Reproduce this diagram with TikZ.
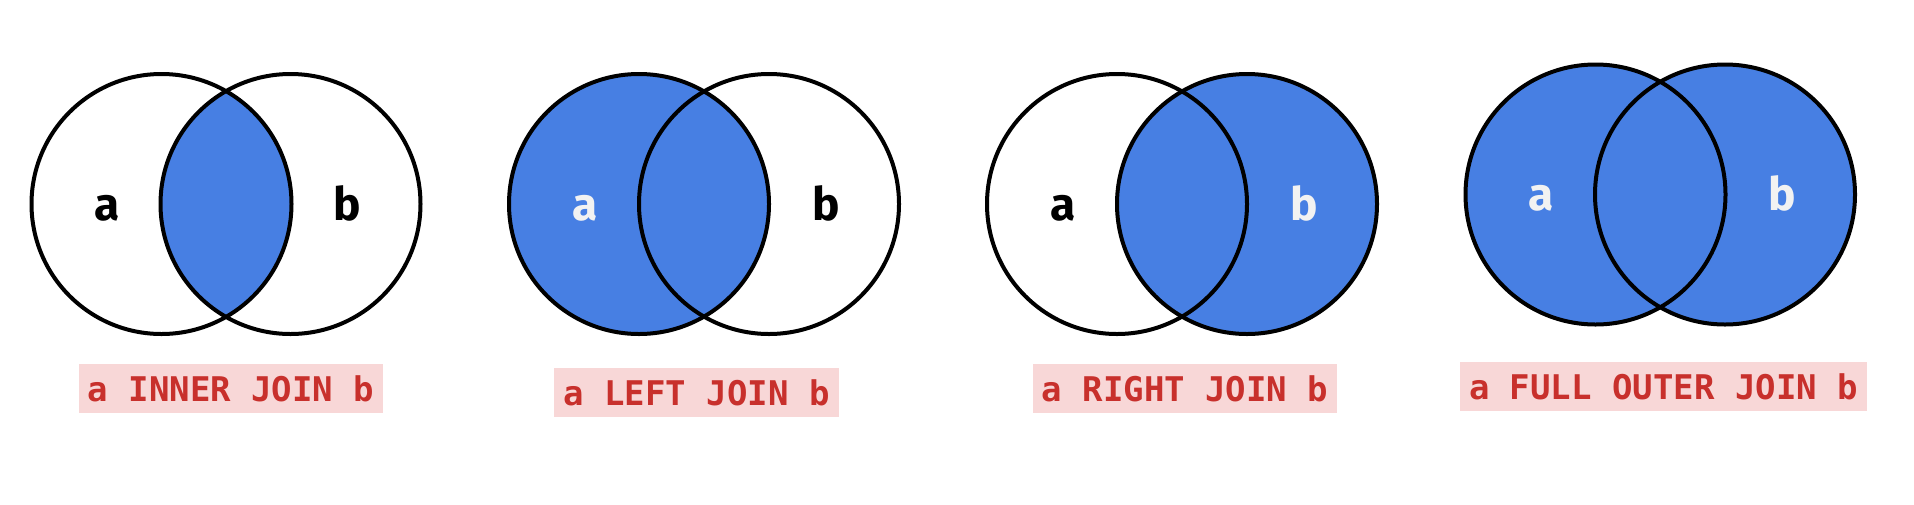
\documentclass[tikz,border=0pt]{standalone}
\usepackage{fontspec}
\setsansfont{Fira Sans}
\setmonofont{DejaVu Sans Mono}
\usepackage{tikz}
\usepackage{xcolor}
\usetikzlibrary{positioning}

\definecolor{joinblue}{HTML}{477FE3}
\definecolor{tagpink}{HTML}{F8D7D7}
\definecolor{tagred}{HTML}{C8302C}
\definecolor{paleletter}{HTML}{F2F2F2}
\def\setrad{130}

\begin{document}
\begin{tikzpicture}[x=1pt, y=-1pt,
        set/.style={circle, draw, line width=4pt, minimum size=260pt, inner sep=0pt},
        setname/.style={anchor=base, font=\sffamily\bfseries\fontsize{46}{46}\selectfont},
        tag/.style={fill=tagpink, text=tagred, inner xsep=9pt, minimum height=49pt,
            font=\ttfamily\bfseries\fontsize{34}{34}\selectfont}]
        \useasboundingbox (0,0) rectangle (1914,504);

        % centres of the sets
        \coordinate (ia) at (161.5,204);
        \coordinate (ib) at (290.5,204);
        \coordinate (la) at (639,204);
        \coordinate (lb) at (769,204);
        \coordinate (ra) at (1117,204);
        \coordinate (rb) at (1247,204);
        \coordinate (fa) at (1595.5,194.5);
        \coordinate (fb) at (1725,194.5);

        % shaded parts
        \begin{scope}
            \clip (ia) circle (\setrad);
            \fill[joinblue] (ib) circle (\setrad);
        \end{scope}
        \fill[joinblue] (la) circle (\setrad);
        \fill[joinblue] (rb) circle (\setrad);
        \fill[joinblue] (fa) circle (\setrad) (fb) circle (\setrad);

        % outlines
        \foreach \s in {ia, ib, la, lb, ra, rb, fa, fb}
            \node[set] (\s-set) at (\s) {};

        % set names
        \node[setname] (ia-name) at ([shift={(-54,16)}]ia) {a};
        \node[setname] (ib-name) at ([shift={(57,16)}]ib) {b};
        \node[setname, text=paleletter] (la-name) at ([shift={(-54,16)}]la) {a};
        \node[setname] (lb-name) at ([shift={(57,16)}]lb) {b};
        \node[setname] (ra-name) at ([shift={(-54,16)}]ra) {a};
        \node[setname, text=paleletter] (rb-name) at ([shift={(57,16)}]rb) {b};
        \node[setname, text=paleletter] (fa-name) at ([shift={(-54,16)}]fa) {a};
        \node[setname, text=paleletter] (fb-name) at ([shift={(57,16)}]fb) {b};

        % join names
        \node[tag] (inner) at (231,388.5) {a INNER JOIN b};
        \node[tag] (left) at (696.5,392.5) {a LEFT JOIN b};
        \node[tag] (right) at (1185,388.5) {a RIGHT JOIN b};
        \node[tag] (full) at (1663.5,386.5) {a FULL OUTER JOIN b};
    \end{tikzpicture}
\end{document}
